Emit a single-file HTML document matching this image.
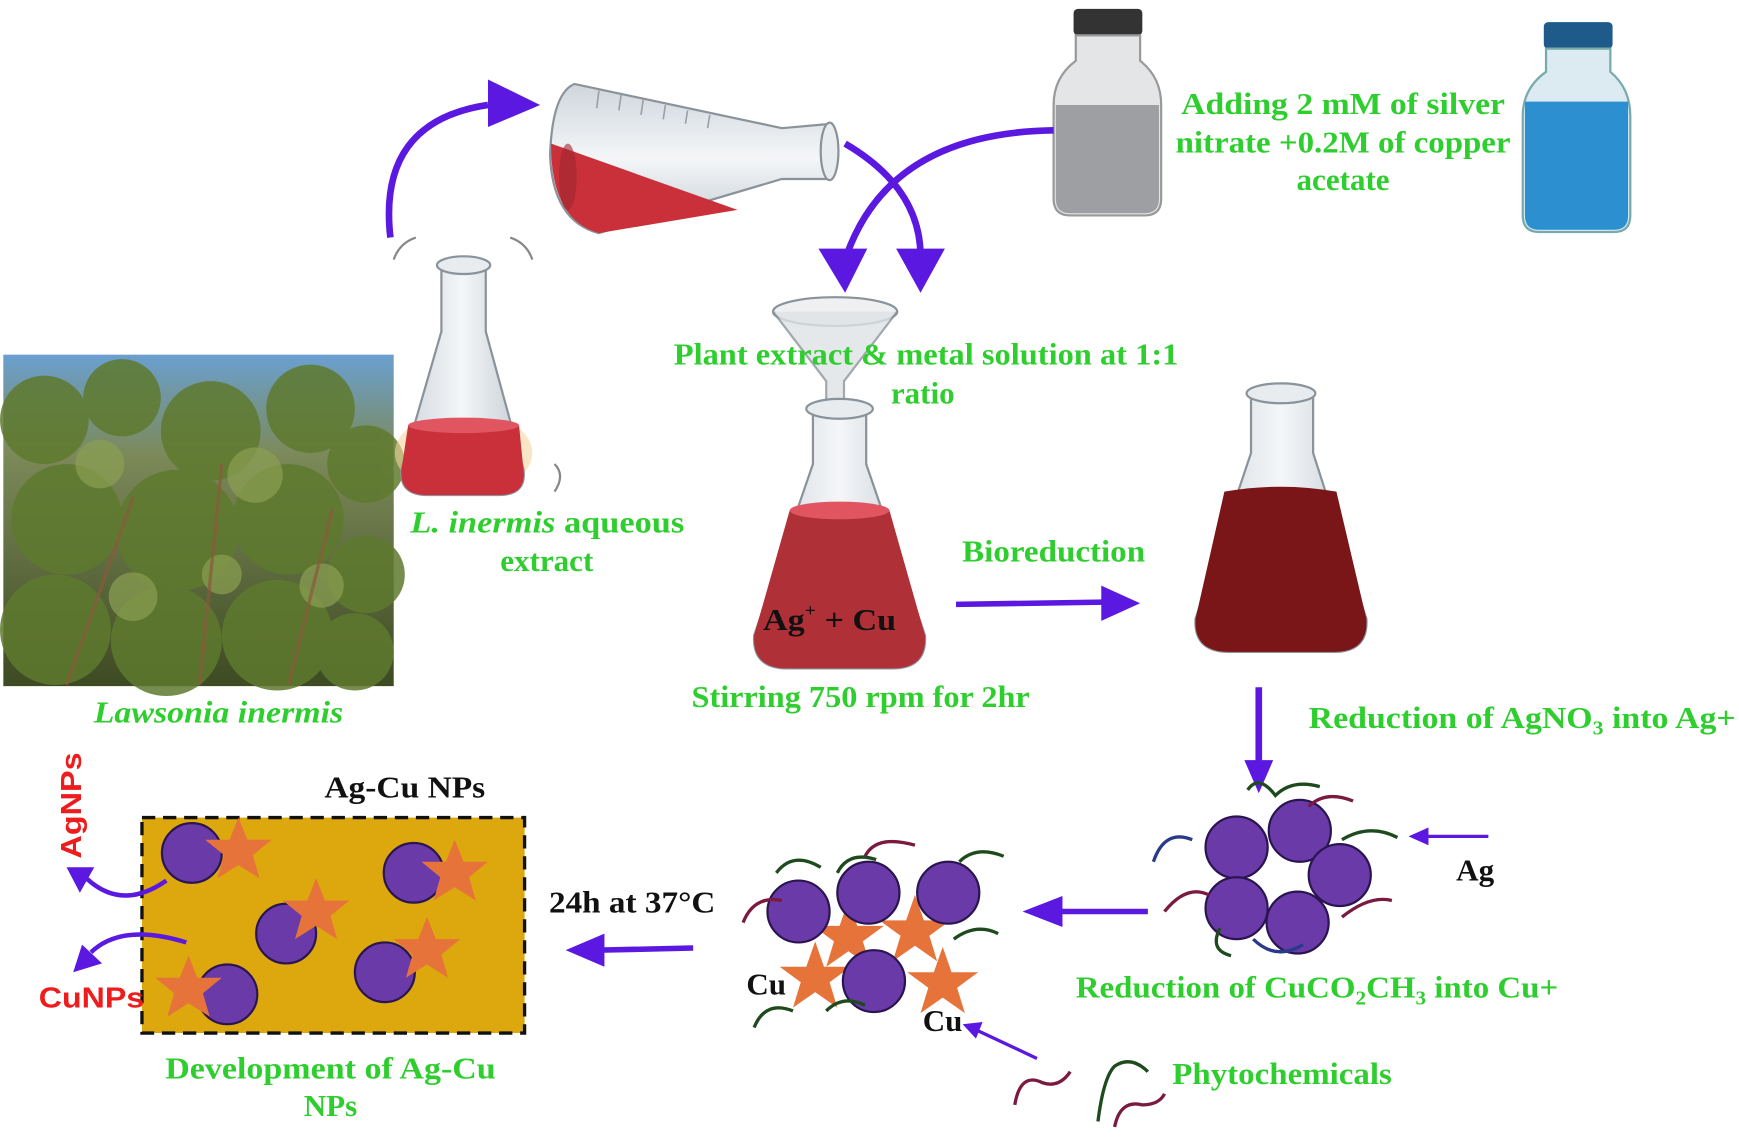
<!DOCTYPE html>
<html><head><meta charset="utf-8"><style>
html,body{margin:0;padding:0;background:#fff;}
svg{display:block;}
text{font-family:"Liberation Serif",serif;font-weight:bold;}
.g{fill:#2fce2f;font-size:28px;}
.k{fill:#111;font-size:28px;}
</style></head><body>
<svg width="1739" height="1138" viewBox="0 0 1568 1030" preserveAspectRatio="none" xmlns="http://www.w3.org/2000/svg">
<defs>
<linearGradient id="sky" x1="0" y1="0" x2="0" y2="1"><stop offset="0" stop-color="#6a9fd0"/><stop offset="0.3" stop-color="#7c8a5a"/><stop offset="1" stop-color="#3d4a22"/></linearGradient>
<linearGradient id="gl" x1="0" y1="0" x2="1" y2="0"><stop offset="0" stop-color="#cfd6dc"/><stop offset="0.5" stop-color="#f4f6f8"/><stop offset="1" stop-color="#c3cbd2"/></linearGradient>
<linearGradient id="gl2" x1="0" y1="0" x2="0" y2="1"><stop offset="0" stop-color="#cfd6dc"/><stop offset="0.5" stop-color="#f4f6f8"/><stop offset="1" stop-color="#c3cbd2"/></linearGradient>
</defs>
<rect x="3" y="321" width="352" height="300" fill="url(#sky)"/>
<g fill="#5f7a2e" opacity="0.85">
<circle cx="40" cy="380" r="40"/><circle cx="110" cy="360" r="35"/><circle cx="190" cy="390" r="45"/><circle cx="280" cy="370" r="40"/><circle cx="330" cy="420" r="35"/>
<circle cx="60" cy="470" r="50"/><circle cx="160" cy="480" r="55"/><circle cx="260" cy="470" r="50"/><circle cx="330" cy="520" r="35"/>
<circle cx="50" cy="570" r="50"/><circle cx="150" cy="580" r="50"/><circle cx="250" cy="575" r="50"/><circle cx="320" cy="590" r="35"/>
</g>
<g fill="#8aa052" opacity="0.7"><circle cx="90" cy="420" r="22"/><circle cx="230" cy="430" r="25"/><circle cx="120" cy="540" r="22"/><circle cx="290" cy="530" r="20"/><circle cx="200" cy="520" r="18"/></g>
<g stroke="#8a5a3a" stroke-width="3" fill="none" opacity="0.7"><path d="M60 620 L120 450"/><path d="M180 620 L200 420"/><path d="M260 620 L300 460"/></g>
<text class="g" x="197" y="654" text-anchor="middle" font-style="italic" textLength="225" lengthAdjust="spacingAndGlyphs">Lawsonia inermis</text>
<ellipse cx="418" cy="410" rx="62" ry="38" fill="#f5d6a0" opacity="0.6"/>
<path d="M398 245 L398 300 L362 425 Q360 448 385 448 L450 448 Q475 448 472 425 L438 300 L438 245 Z" fill="url(#gl)" stroke="#8a939a" stroke-width="2"/>
<path d="M368 385 Q418 375 468 385 L472 425 Q475 448 450 448 L385 448 Q360 448 362 425 Z" fill="#c9303a"/>
<ellipse cx="418" cy="385" rx="50" ry="7" fill="#e05560"/>
<ellipse cx="418" cy="240" rx="24" ry="8" fill="#e8ecef" stroke="#8a939a" stroke-width="2"/>
<g stroke="#888" stroke-width="2" fill="none"><path d="M355 235 Q360 220 375 215"/><path d="M460 215 Q475 220 480 235"/><path d="M500 420 Q510 430 500 445"/></g>
<text class="g" x="370" y="482" textLength="247" lengthAdjust="spacingAndGlyphs"><tspan font-style="italic">L. inermis</tspan>  aqueous</text>
<text class="g" x="493" y="517" text-anchor="middle">extract</text>
<path d="M352 215 Q340 110 440 95" stroke="#5a18e0" stroke-width="6" fill="none"/>
<path d="M440 72 L487 95 L440 115 Z" fill="#5a18e0"/>
<!-- tilted flask -->
<path d="M518 76 Q498 84 496 140 Q498 200 540 211 L705 162 L750 162 L750 112 L705 116 Z" fill="url(#gl2)" stroke="#8a939a" stroke-width="2"/>
<path d="M497 130 L665 190 L540 211 Q500 200 497 140 Z" fill="#c9303a"/>
<ellipse cx="512" cy="160" rx="8" ry="30" fill="#a0262e" opacity="0.6"/>
<ellipse cx="748" cy="137" rx="8" ry="26" fill="#e8ecef" stroke="#8a939a" stroke-width="2"/>
<g stroke="#9aa2a8" stroke-width="1.5"><path d="M540 82 L538 98"/><path d="M560 86 L558 100"/><path d="M580 90 L578 104"/><path d="M600 95 L598 108"/><path d="M620 100 L618 112"/><path d="M640 104 L638 116"/></g>
<rect x="968" y="8" width="62" height="24" rx="4" fill="#333"/>
<path d="M970 32 L970 55 Q950 70 950 95 L950 180 Q950 195 965 195 L1032 195 Q1047 195 1047 180 L1047 95 Q1047 70 1028 55 L1028 32 Z" fill="#e3e5e7" stroke="#999" stroke-width="2"/>
<path d="M952 95 L1045 95 L1045 180 Q1045 193 1032 193 L965 193 Q952 193 952 180 Z" fill="#9d9fa2"/>
<rect x="1392" y="20" width="62" height="24" rx="4" fill="#1e5a8a"/>
<path d="M1394 44 L1394 65 Q1373 80 1373 105 L1373 195 Q1373 210 1388 210 L1455 210 Q1470 210 1470 195 L1470 105 Q1470 80 1452 65 L1452 44 Z" fill="#dceaf2" stroke="#7aa" stroke-width="2"/>
<path d="M1375 92 L1468 92 L1468 195 Q1468 208 1455 208 L1388 208 Q1375 208 1375 195 Z" fill="#2b8fd0"/>
<text class="g" x="1211" y="103" text-anchor="middle" textLength="292" lengthAdjust="spacingAndGlyphs">Adding 2 mM of silver</text>
<text class="g" x="1211" y="138" text-anchor="middle" textLength="302" lengthAdjust="spacingAndGlyphs">nitrate +0.2M of copper</text>
<text class="g" x="1211" y="172" text-anchor="middle">acetate</text>
<path d="M950 118 Q800 120 762 235" stroke="#5a18e0" stroke-width="6" fill="none"/>
<path d="M738 225 L762 265 L782 225 Z" fill="#5a18e0"/>
<path d="M762 130 Q830 170 830 232" stroke="#5a18e0" stroke-width="6" fill="none"/>
<path d="M808 225 L830 265 L852 225 Z" fill="#5a18e0"/>
<ellipse cx="753" cy="282" rx="56" ry="13" fill="#eef0f2" stroke="#8a939a" stroke-width="2"/>
<path d="M697 282 L745 345 L745 365 L761 365 L761 345 L809 282" fill="#dfe3e6" opacity="0.8" stroke="#8a939a" stroke-width="2"/>
<text class="g" x="835" y="330" text-anchor="middle" textLength="455" lengthAdjust="spacingAndGlyphs">Plant extract &amp; metal solution at 1:1</text>
<text class="g" x="832" y="365" text-anchor="middle">ratio</text>
<path d="M733 372 L733 420 L680 575 Q678 605 710 605 L805 605 Q836 605 834 575 L781 420 L781 372 Z" fill="url(#gl)" stroke="#8a939a" stroke-width="2"/>
<path d="M712 462 Q757 452 802 462 L834 575 Q836 605 805 605 L710 605 Q678 605 680 575 Z" fill="#b03038"/>
<ellipse cx="757" cy="462" rx="45" ry="8" fill="#e05560"/>
<ellipse cx="757" cy="370" rx="30" ry="9" fill="#e8ecef" stroke="#8a939a" stroke-width="2"/>
<text class="k" x="688" y="570" textLength="120" lengthAdjust="spacingAndGlyphs">Ag<tspan font-size="16" dy="-12">+</tspan><tspan dy="12"> + Cu</tspan></text>
<text class="g" x="776" y="640" text-anchor="middle" textLength="305" lengthAdjust="spacingAndGlyphs">Stirring 750 rpm for 2hr</text>
<text class="g" x="950" y="508" text-anchor="middle" textLength="165" lengthAdjust="spacingAndGlyphs">Bioreduction</text>
<path d="M862 547 L995 545" stroke="#5a18e0" stroke-width="5"/>
<path d="M993 530 L1028 546 L993 562 Z" fill="#5a18e0"/>
<path d="M1128 358 L1128 410 L1078 560 Q1076 590 1108 590 L1203 590 Q1234 590 1232 560 L1184 410 L1184 358 Z" fill="url(#gl)" stroke="#8a939a" stroke-width="2"/>
<path d="M1104 445 Q1155 436 1205 445 L1232 560 Q1234 590 1203 590 L1108 590 Q1076 590 1078 560 Z" fill="#7a1518"/>
<ellipse cx="1155" cy="356" rx="31" ry="9" fill="#e8ecef" stroke="#8a939a" stroke-width="2"/>
<path d="M1135 622 L1135 690" stroke="#5a18e0" stroke-width="6"/>
<path d="M1122 688 L1135 718 L1148 688 Z" fill="#5a18e0"/>
<text class="g" x="1180" y="659" textLength="385" lengthAdjust="spacingAndGlyphs">Reduction of AgNO<tspan font-size="18" dy="6">3</tspan><tspan dy="-6"> into Ag+</tspan></text>
<g stroke="#2a1550" stroke-width="2" fill="#6a3aa8">
<circle cx="1115" cy="767" r="28"/><circle cx="1172" cy="752" r="28"/><circle cx="1208" cy="792" r="28"/><circle cx="1170" cy="835" r="28"/><circle cx="1115" cy="822" r="28"/>
</g>
<g fill="none" stroke-width="3">
<path d="M1125 715 Q1135 700 1150 720 Q1165 705 1190 712" stroke="#1e4a1e"/>
<path d="M1040 780 Q1050 750 1075 760" stroke="#2a3a8a"/>
<path d="M1210 760 Q1235 745 1260 758" stroke="#1e4a1e"/>
<path d="M1050 825 Q1070 800 1090 810" stroke="#7a1a40"/>
<path d="M1210 830 Q1235 810 1255 815" stroke="#7a1a40"/>
<path d="M1130 850 Q1150 870 1175 855" stroke="#2a3a8a"/>
<path d="M1180 730 Q1195 715 1220 725" stroke="#7a1a40"/>
<path d="M1100 840 Q1090 860 1110 865" stroke="#1e4a1e"/>
</g>
<path d="M1342 757 L1285 757" stroke="#5a18e0" stroke-width="3"/>
<path d="M1288 749 L1270 757 L1288 765 Z" fill="#5a18e0"/>
<text class="k" x="1313" y="797">Ag</text>
<path d="M1035 825 L955 825" stroke="#5a18e0" stroke-width="5"/>
<path d="M958 811 L922 825 L958 839 Z" fill="#5a18e0"/>
<text class="g" x="970" y="903" textLength="435" lengthAdjust="spacingAndGlyphs">Reduction of CuCO<tspan font-size="18" dy="6">2</tspan><tspan dy="-6">CH</tspan><tspan font-size="18" dy="6">3</tspan><tspan dy="-6"> into Cu+</tspan></text>
<g fill="#e6733a">
<polygon points="765,815 773,838 797,838 778,852 785,875 765,861 745,875 752,852 733,838 757,838"/>
<polygon points="825,810 833,833 857,833 838,847 845,870 825,856 805,870 812,847 793,833 817,833"/>
<polygon points="735,852 743,875 767,875 748,889 755,912 735,898 715,912 722,889 703,875 727,875"/>
<polygon points="850,857 858,880 882,880 863,894 870,917 850,903 830,917 837,894 818,880 842,880"/>
</g>
<g stroke="#2a1550" stroke-width="2" fill="#6a3aa8">
<circle cx="720" cy="825" r="28"/><circle cx="783" cy="808" r="28"/><circle cx="855" cy="808" r="28"/><circle cx="788" cy="888" r="28"/>
</g>
<g fill="none" stroke-width="3">
<path d="M700 790 Q715 770 740 785" stroke="#1e4a1e"/>
<path d="M670 835 Q680 810 705 815" stroke="#7a1a40"/>
<path d="M780 775 Q790 755 825 765" stroke="#7a1a40"/>
<path d="M865 780 Q880 765 905 775" stroke="#1e4a1e"/>
<path d="M755 790 Q765 770 790 778" stroke="#1e4a1e"/>
<path d="M860 850 Q880 835 900 845" stroke="#1e4a1e"/>
<path d="M680 930 Q690 905 715 915" stroke="#1e4a1e"/>
<path d="M745 915 Q760 900 780 910" stroke="#1e4a1e"/>
</g>
<text class="k" x="673" y="900">Cu</text>
<text class="k" x="832" y="933">Cu</text>
<path d="M935 958 L882 933" stroke="#5a18e0" stroke-width="3"/>
<path d="M886 925 L868 927 L880 940 Z" fill="#5a18e0"/>
<g fill="none" stroke-width="3">
<path d="M915 1000 Q920 970 940 980 Q955 985 965 970" stroke="#7a1a40"/>
<path d="M990 1015 Q995 975 1005 965 Q1020 955 1035 970" stroke="#1e4a1e"/>
<path d="M1005 1020 Q1010 995 1030 1000 Q1045 1000 1050 990" stroke="#7a1a40"/>
</g>
<text class="g" x="1057" y="981" textLength="198" lengthAdjust="spacingAndGlyphs">Phytochemicals</text>
<path d="M625 858 L540 860" stroke="#5a18e0" stroke-width="5"/>
<path d="M545 845 L510 860 L545 875 Z" fill="#5a18e0"/>
<text class="k" x="495" y="826" textLength="150" lengthAdjust="spacingAndGlyphs">24h at 37°C</text>
<text class="k" x="365" y="722" text-anchor="middle" textLength="145" lengthAdjust="spacingAndGlyphs">Ag-Cu NPs</text>
<rect x="128" y="740" width="345" height="195" fill="#dca80e" stroke="#111" stroke-width="3" stroke-dasharray="12,7"/>
<g stroke="#2a1550" stroke-width="2" fill="#6a3aa8">
<circle cx="173" cy="772" r="27"/><circle cx="373" cy="790" r="27"/><circle cx="258" cy="845" r="27"/><circle cx="347" cy="880" r="27"/><circle cx="205" cy="900" r="27"/>
</g>
<g fill="#e6733a">
<polygon points="215,740 223,760 245,760 228,774 234,795 215,783 196,795 202,774 185,760 207,760"/>
<polygon points="410,760 418,780 440,780 423,794 429,815 410,803 391,815 397,794 380,780 402,780"/>
<polygon points="285,795 293,815 315,815 298,829 304,850 285,838 266,850 272,829 255,815 277,815"/>
<polygon points="385,830 393,850 415,850 398,864 404,885 385,873 366,885 372,864 355,850 377,850"/>
<polygon points="170,865 178,885 200,885 183,899 189,920 170,908 151,920 157,899 140,885 162,885"/>
</g>
<text x="0" y="0" transform="translate(73 777) rotate(-90)" fill="#ee1c1c" font-size="26" style="font-family:'Liberation Sans',sans-serif;font-weight:bold" textLength="96" lengthAdjust="spacingAndGlyphs">AgNPs</text>
<path d="M150 797 Q110 825 78 795" stroke="#5a18e0" stroke-width="4" fill="none"/>
<path d="M60 785 L85 785 L72 808 Z" fill="#5a18e0"/>
<path d="M168 853 Q110 835 82 862" stroke="#5a18e0" stroke-width="4" fill="none"/>
<path d="M66 880 L74 855 L92 872 Z" fill="#5a18e0"/>
<text x="35" y="912" fill="#ee1c1c" font-size="26" style="font-family:'Liberation Sans',sans-serif;font-weight:bold" textLength="95" lengthAdjust="spacingAndGlyphs">CuNPs</text>
<text class="g" x="298" y="976" text-anchor="middle" textLength="298" lengthAdjust="spacingAndGlyphs">Development of Ag-Cu</text>
<text class="g" x="298" y="1010" text-anchor="middle">NPs</text>
</svg>
</body></html>
